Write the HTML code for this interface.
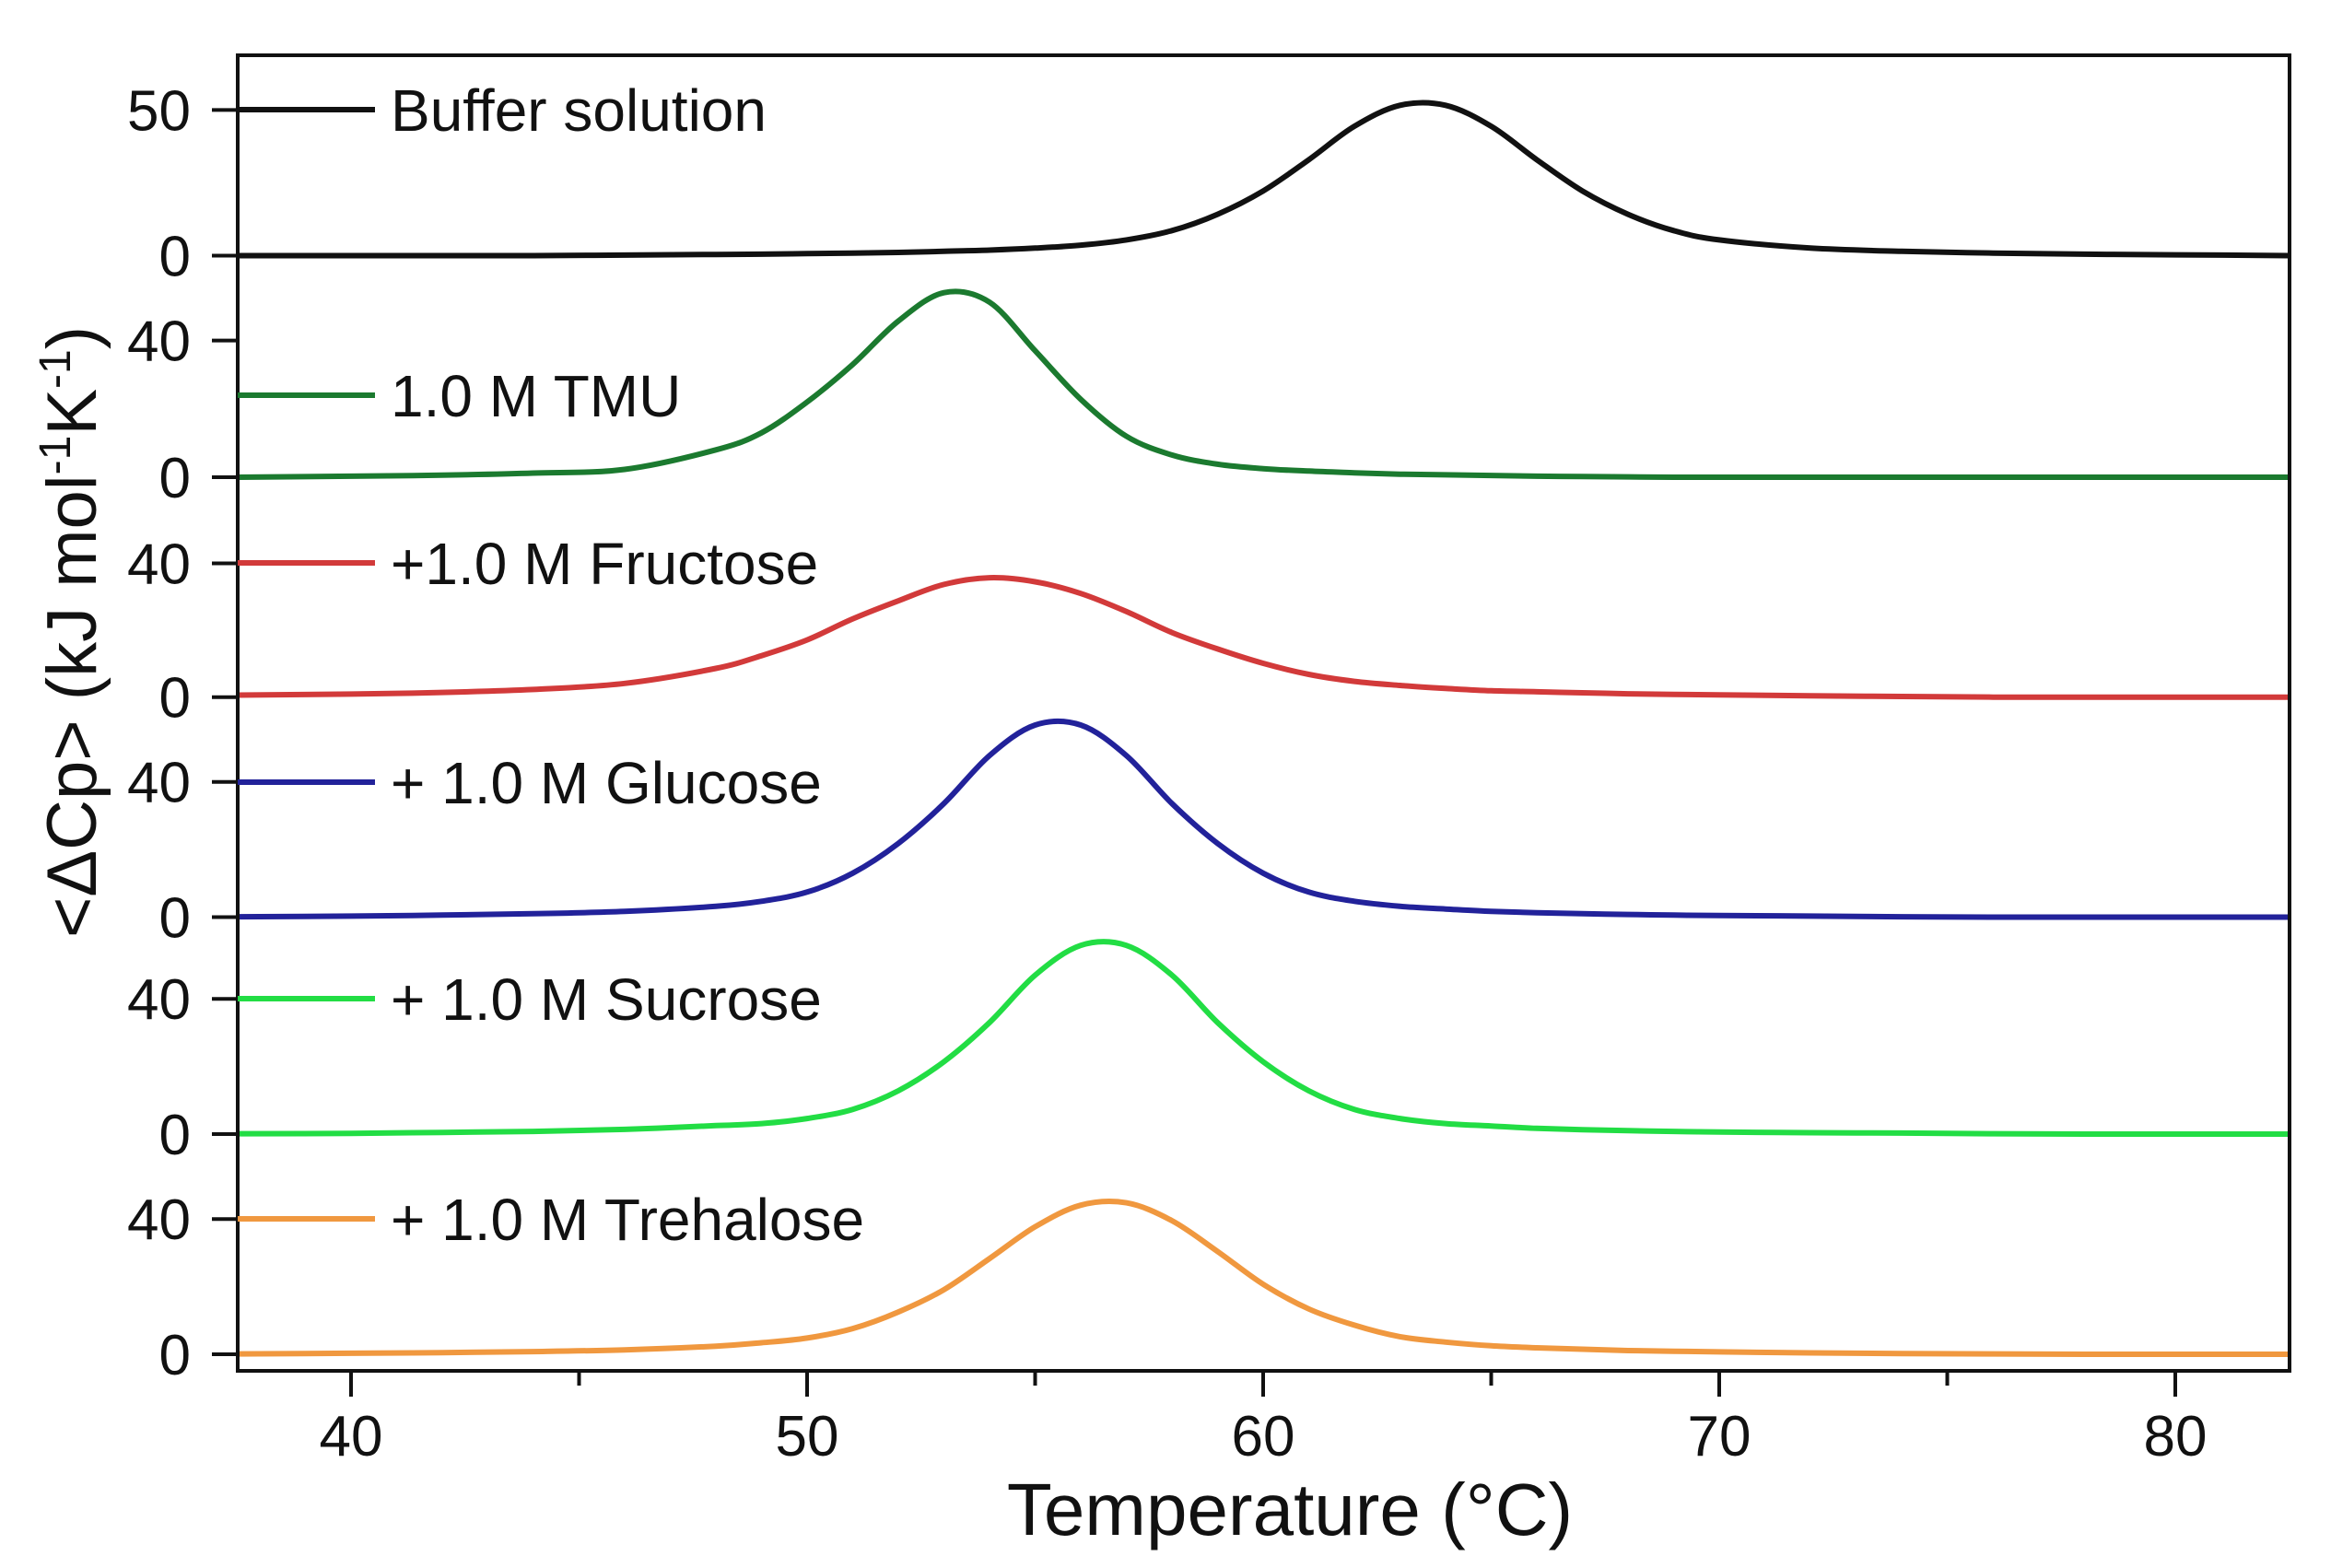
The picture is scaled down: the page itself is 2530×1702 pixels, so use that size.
<!DOCTYPE html>
<html><head><meta charset="utf-8"><style>
html,body{margin:0;padding:0;background:#fff;}
svg{display:block;font-family:"Liberation Sans",sans-serif;}
</style></head><body>
<svg id="chart" width="2530" height="1702" viewBox="0 0 2530 1702">
<defs><clipPath id="plotclip"><rect x="258" y="60" width="2227" height="1428"/></clipPath></defs>
<g id="curves" clip-path="url(#plotclip)"></g>
<rect x="258" y="60" width="2227" height="1428" fill="none" stroke="#111" stroke-width="4"/>
<g id="xaxis"></g>
<g id="yaxis"></g>
<g id="legend"></g>
<text x="1400" y="1666" font-size="80" text-anchor="middle" fill="#111">Temperature (°C)</text>
<text transform="translate(104,686) rotate(-90)" font-size="76" text-anchor="middle" fill="#111">&lt;ΔCp&gt; (kJ mol<tspan dy="-28" font-size="48">-1</tspan><tspan dy="28">K</tspan><tspan dy="-28" font-size="48">-1</tspan><tspan dy="28">)</tspan></text>
</svg>
<script>
const temps = [37.5,40,42,44,46,48,49,50,51,52,53,54,55,56,57,58,59,60,61,62,63,64,65,66,67,68,69,70,72,74,76,78,80,82.5];
const seriesNames = ["Buffer solution","1.0 M TMU","+1.0 M Fructose","+ 1.0 M Glucose","+ 1.0 M Sucrose","+ 1.0 M Trehalose"];
const bufferVals = [0,0,0,0,0.2,0.4,0.5,0.7,0.9,1.1,1.5,1.9,2.6,3.6,5.4,8.6,14.2,22.2,32.9,44.4,51.6,51.6,44.4,32.9,22.2,14.2,8.6,5.4,2.6,1.5,0.9,0.5,0.3,0];
const tmuVals = [0,0.3,0.6,1.2,2.3,8,13,22,33,45.7,54,51.2,37,22.8,12,6.5,3.8,2.5,1.8,1.3,0.9,0.7,0.5,0.3,0.2,0.1,0,0,0,0,0,0,0,0];
const fructoseVals = [0.6,0.9,1.4,2.3,4.1,8.6,12.4,17.1,23.4,28.8,33.7,35.7,34.5,31,25.6,19.3,14.4,10.1,6.8,4.7,3.5,2.6,1.9,1.6,1.3,1.0,0.8,0.7,0.4,0.2,0,0,0,0];
const glucoseVals = [0.1,0.3,0.6,1.0,1.7,3.2,4.7,7.4,13,21.8,33.6,47.8,56.8,56.8,47.8,33.6,21.8,13,7.4,4.7,3.2,2.4,1.7,1.3,1.0,0.8,0.6,0.5,0.3,0.1,0,0,0,0];
const sucroseVals = [0.1,0.2,0.5,0.8,1.4,2.5,3.1,4.6,7.3,12.8,21.4,33,47,55.8,55.8,47,33,21.4,12.8,7.3,4.6,3.1,2.4,1.7,1.3,1.0,0.8,0.6,0.4,0.3,0.1,0,0,0];
const trehaloseVals = [0.1,0.3,0.5,0.8,1.3,2.4,3.4,4.8,7.6,12.5,19.1,28.3,37.7,44.1,44.8,39.5,30.4,20.7,13.4,8.6,5.2,3.6,2.5,1.9,1.5,1.1,0.9,0.7,0.4,0.2,0.1,0,0,0];
const xTickLabels = [40,50,60,70,80];
const xMinorTicks = [45,55,65,75];
const yTickVals = [[0,50],[0,40],[0,40],[0,40],[0,40],[0,40]];

const NS="http://www.w3.org/2000/svg";
const colors=["#111111","#1b7a2f","#d23a3a","#22229a","#22dd44","#f0983f"];
const zeros=[277.5,518,756.7,995.5,1231,1470];
const unitPx=[3.163,3.71,3.63,3.67,3.67,3.67];
const legendY=[119,429,611,849,1084,1323];
const allVals=[bufferVals,tmuVals,fructoseVals,glucoseVals,sucroseVals,trehaloseVals];
function xScale(t){return 381+(t-40)*49.5;}
function yScale(i,v){return zeros[i]-v*unitPx[i];}
function mk(tag,attrs,parent){const e=document.createElementNS(NS,tag);for(const k in attrs)e.setAttribute(k,attrs[k]);parent.appendChild(e);return e;}
function smoothPath(pts){
  let d="M"+pts[0][0].toFixed(1)+","+pts[0][1].toFixed(1);
  for(let i=0;i<pts.length-1;i++){
    const p0=pts[i-1]||pts[i],p1=pts[i],p2=pts[i+1],p3=pts[i+2]||p2;
    const c1x=p1[0]+(p2[0]-p0[0])/6,c1y=p1[1]+(p2[1]-p0[1])/6;
    const c2x=p2[0]-(p3[0]-p1[0])/6,c2y=p2[1]-(p3[1]-p1[1])/6;
    d+=" C"+c1x.toFixed(1)+","+c1y.toFixed(1)+" "+c2x.toFixed(1)+","+c2y.toFixed(1)+" "+p2[0].toFixed(1)+","+p2[1].toFixed(1);
  }
  return d;
}
const cg=document.getElementById("curves");
allVals.forEach((vals,i)=>{
  const pts=temps.map((t,j)=>[xScale(t),yScale(i,vals[j])]);
  const p=mk("path",{d:smoothPath(pts),fill:"none",stroke:colors[i],"stroke-width":6,"stroke-linejoin":"round"},cg);
  
  
});
const xg=document.getElementById("xaxis");
xTickLabels.forEach(t=>{
  const l=mk("line",{x1:xScale(t),x2:xScale(t),y1:1488,y2:1516,stroke:"#111","stroke-width":4},xg);
  
  
  const tx=mk("text",{x:xScale(t),y:1580,"font-size":62,"text-anchor":"middle",fill:"#111"},xg);
  tx.textContent=t;
  
  
});
xMinorTicks.forEach(t=>{
  const l=mk("line",{x1:xScale(t),x2:xScale(t),y1:1488,y2:1504,stroke:"#111","stroke-width":4},xg);
  
  
});
const yg=document.getElementById("yaxis");
yTickVals.forEach((tv,i)=>{
  tv.forEach(v=>{
    const y=yScale(i,v);
    const l=mk("line",{x1:230,x2:258,y1:y,y2:y,stroke:"#111","stroke-width":4},yg);
    
    
    const tx=mk("text",{x:207,y:y+22,"font-size":62,"text-anchor":"end",fill:"#111"},yg);
    tx.textContent=v;
    
    
  });
});
const lg=document.getElementById("legend");
seriesNames.forEach((n,i)=>{
  const l=mk("line",{x1:258,x2:407,y1:legendY[i],y2:legendY[i],stroke:colors[i],"stroke-width":6},lg);
  
  
  const tx=mk("text",{x:424,y:legendY[i]+23,"font-size":64,fill:"#111"},lg);
  tx.textContent=n;
  
  
});
</script>
</body></html>
